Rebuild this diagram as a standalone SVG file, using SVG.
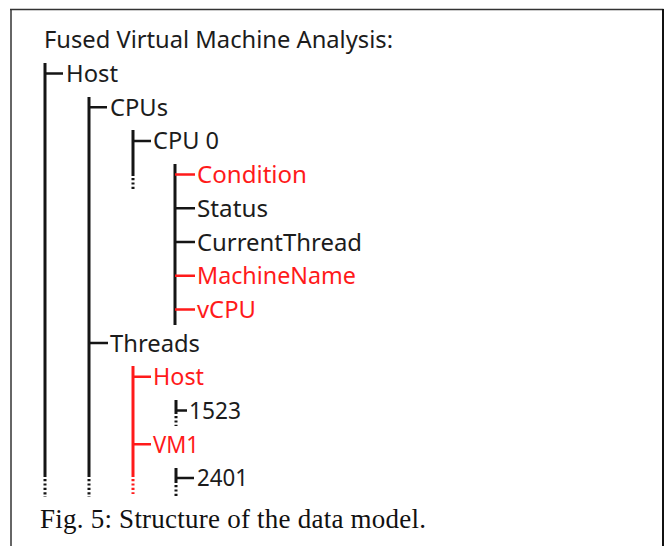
<svg xmlns="http://www.w3.org/2000/svg" width="665" height="546" viewBox="0 0 665 546">
<style>
.t{font-family:"Noto Sans","Liberation Sans",sans-serif;font-size:23.5px;fill:#1c1c1c}
.r{fill:#ff1a1a}
.cap{font-family:"Liberation Serif","Times New Roman",serif;font-size:27px;fill:#111}
.v{stroke:#151515;stroke-width:3;fill:none}
.vr{stroke:#ff1a1a;stroke-width:3;fill:none}
.d{stroke-dasharray:2.2 2.2}
.k{stroke:#151515;stroke-width:2.5}
.kr{stroke:#ff1a1a;stroke-width:2.5}
</style>
<rect x="0" y="0" width="665" height="546" fill="#fff"/>
<g id="frame" fill="none">
<path d="M10 9.5H663.5" stroke="#333" stroke-width="1.5"/>
<path d="M11 9V546" stroke="#333" stroke-width="1.5"/>
<path d="M663 9V546" stroke="#111" stroke-width="2"/>
</g>
<g id="connectors">
<path class="v" d="M45 63V477M89 97V477M133 130V176M175 164V325M176 400V414M176 468V483"/>
<path class="v d" d="M45 479V497M89 479V497M133 178V190M176 416V426M176 485V496"/>
<path class="vr" d="M133 366V477"/>
<path class="vr d" d="M133 479V494"/>
<path class="k" d="M45 73.5H63M89 107.2H107M133 140.9H151M175 208.3H195M175 242H195M89 343.1H108M176 410.5H187M176 477.9H194"/>
<path class="kr" d="M175 174.6H195M175 275.7H195M175 309.4H195M133 376.8H151M133 444.2H151"/>
</g>
<g id="title"><text class="t" x="44" y="48" textLength="349" lengthAdjust="spacingAndGlyphs">Fused Virtual Machine Analysis:</text></g>
<g id="host"><text class="t" x="66" y="82" textLength="52" lengthAdjust="spacingAndGlyphs">Host</text></g>
<g id="cpus"><text class="t" x="110" y="115.7" textLength="58" lengthAdjust="spacingAndGlyphs">CPUs</text></g>
<g id="cpu0"><text class="t" x="153" y="149.4" textLength="66" lengthAdjust="spacingAndGlyphs">CPU 0</text></g>
<g id="condition"><text class="t r" x="197" y="183.1" textLength="110" lengthAdjust="spacingAndGlyphs">Condition</text></g>
<g id="status"><text class="t" x="197" y="216.8" textLength="71" lengthAdjust="spacingAndGlyphs">Status</text></g>
<g id="currentthread"><text class="t" x="197" y="250.5" textLength="165" lengthAdjust="spacingAndGlyphs">CurrentThread</text></g>
<g id="machinename"><text class="t r" x="197" y="284.2" textLength="159" lengthAdjust="spacingAndGlyphs">MachineName</text></g>
<g id="vcpu"><text class="t r" x="197" y="317.9" textLength="59" lengthAdjust="spacingAndGlyphs">vCPU</text></g>
<g id="threads"><text class="t" x="110" y="351.6" textLength="90" lengthAdjust="spacingAndGlyphs">Threads</text></g>
<g id="thread-host"><text class="t r" x="153" y="385.3" textLength="51" lengthAdjust="spacingAndGlyphs">Host</text></g>
<g id="t1523"><text class="t" x="189" y="419" textLength="52" lengthAdjust="spacingAndGlyphs">1523</text></g>
<g id="vm1"><text class="t r" x="153" y="452.7" textLength="46" lengthAdjust="spacingAndGlyphs">VM1</text></g>
<g id="t2401"><text class="t" x="197" y="486.4" textLength="51" lengthAdjust="spacingAndGlyphs">2401</text></g>
<g id="caption"><text class="cap" x="40" y="528" textLength="386" lengthAdjust="spacing">Fig. 5: Structure of the data model.</text></g>
</svg>
